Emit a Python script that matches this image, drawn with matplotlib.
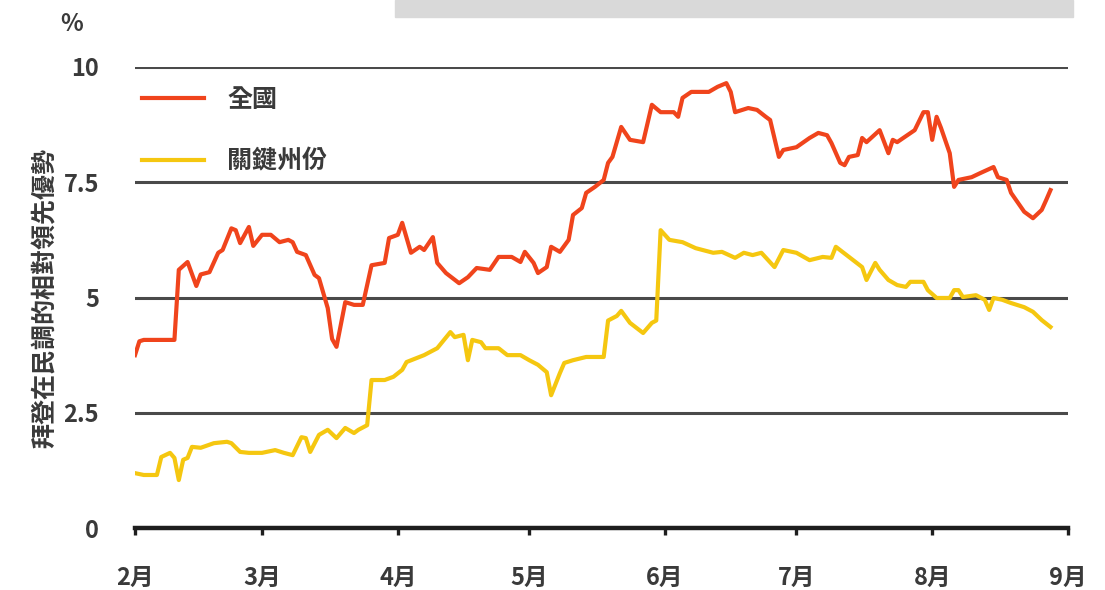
import numpy as np
import matplotlib
matplotlib.use("Agg")
import matplotlib.pyplot as plt
from matplotlib.patches import Rectangle

plt.rcParams['font.family'] = ['Noto Sans CJK TC', 'DejaVu Sans']

# day offsets from 2020-02-01 and Biden's lead (%)
nat_days = [0, 1, 2, 9, 10, 12, 14, 15, 17, 19, 20, 22, 23, 24, 26, 27, 29, 31, 33, 35,
            36, 37, 39, 41, 42, 44, 45, 46, 48, 50, 52, 54, 57, 58, 60, 61, 63, 65, 66, 68,
            69, 71, 74, 76, 78, 81, 83, 86, 88, 89, 91, 92, 94, 95, 97, 99, 100, 102, 103, 105,
            107, 108, 109, 111, 113, 116, 118, 120, 123, 124, 125, 127, 131, 133, 135, 136, 137, 140, 142, 144,
            145, 147, 148, 151, 154, 156, 158, 159, 161, 162, 163, 165, 166, 167, 170, 172, 173, 174, 176, 178,
            180, 181, 182, 183, 184, 186, 187, 188, 191, 193, 196, 197, 199, 200, 203, 205, 207, 208, 209]
nat_vals = [3.75, 4.05, 4.08, 4.08, 5.6, 5.77, 5.25, 5.5, 5.55, 5.97, 6.03, 6.5, 6.46, 6.18, 6.53, 6.12, 6.36, 6.36, 6.2, 6.25,
            6.2, 5.99, 5.92, 5.49, 5.42, 4.77, 4.1, 3.93, 4.9, 4.84, 4.84, 5.7, 5.75, 6.29, 6.36, 6.62, 5.97, 6.1, 6.03, 6.31,
            5.75, 5.53, 5.31, 5.44, 5.64, 5.6, 5.88, 5.88, 5.77, 5.99, 5.75, 5.53, 5.66, 6.1, 5.99, 6.25, 6.79, 6.94, 7.27, 7.4,
            7.55, 7.92, 8.05, 8.7, 8.42, 8.37, 9.18, 9.02, 9.02, 8.92, 9.33, 9.46, 9.46, 9.57, 9.65, 9.46, 9.02, 9.11, 9.07, 8.92,
            8.85, 8.05, 8.2, 8.26, 8.46, 8.57, 8.52, 8.35, 7.92, 7.87, 8.05, 8.09, 8.46, 8.37, 8.63, 8.13, 8.42, 8.37, 8.5, 8.63,
            9.02, 9.02, 8.42, 8.92, 8.68, 8.13, 7.4, 7.55, 7.61, 7.7, 7.83, 7.61, 7.55, 7.27, 6.86, 6.72, 6.9, 7.11, 7.33]

swing_days = [0, 2, 5, 6, 8, 9, 10, 11, 12, 13, 15, 18, 21, 22, 24, 26, 29, 32, 34, 36,
              38, 39, 40, 42, 44, 46, 48, 50, 51, 53, 54, 57, 59, 61, 62, 66, 69, 72, 73, 75,
              76, 77, 79, 80, 83, 85, 88, 90, 92, 94, 95, 97, 98, 100, 103, 107, 108, 110, 111, 113,
              116, 118, 119, 120, 122, 125, 128, 132, 134, 137, 139, 141, 143, 146, 148, 151, 154, 157, 159, 160,
              163, 166, 167, 169, 170, 172, 174, 176, 177, 180, 181, 183, 186, 187, 188, 189, 192, 194, 195, 196,
              198, 200, 203, 205, 207, 209]
swing_vals = [1.19, 1.15, 1.15, 1.54, 1.63, 1.52, 1.04, 1.48, 1.52, 1.76, 1.74, 1.84, 1.87, 1.84, 1.65, 1.63, 1.63, 1.69, 1.63, 1.58,
              1.97, 1.95, 1.65, 2.02, 2.13, 1.95, 2.17, 2.06, 2.13, 2.23, 3.21, 3.21, 3.28, 3.43, 3.6, 3.75, 3.9, 4.25, 4.14, 4.19,
              3.64, 4.08, 4.03, 3.9, 3.9, 3.75, 3.75, 3.64, 3.54, 3.38, 2.88, 3.36, 3.58, 3.64, 3.71, 3.71, 4.5, 4.6, 4.71, 4.45,
              4.23, 4.45, 4.5, 6.46, 6.25, 6.2, 6.07, 5.97, 5.99, 5.86, 5.97, 5.92, 5.97, 5.66, 6.03, 5.97, 5.81, 5.88, 5.86, 6.1,
              5.88, 5.66, 5.38, 5.75, 5.6, 5.38, 5.27, 5.23, 5.34, 5.34, 5.16, 4.99, 4.99, 5.16, 5.16, 5.01, 5.05, 4.95, 4.73, 4.99,
              4.95, 4.88, 4.79, 4.69, 4.51, 4.36]

month_labels = ['2月', '3月', '4月', '5月', '6月', '7月', '8月', '9月']
y_ticks = [0, 2.5, 5, 7.5, 10]
y_labels = ['0', '2.5', '5', '7.5', '10']

start = np.datetime64('2020-02-01')
nat_x = start + np.array(nat_days, dtype='timedelta64[D]')
swing_x = start + np.array(swing_days, dtype='timedelta64[D]')
month_x = np.arange(np.datetime64('2020-02'), np.datetime64('2020-10'), np.timedelta64(1, 'M')).astype('datetime64[D]')

txt = '#3a3a3a'

fig = plt.figure(figsize=(11.05, 5.9), dpi=100)
ax = fig.add_axes([135 / 1105, 1 - 528 / 590, 933 / 1105, 461 / 590])

ax.plot(nat_x, nat_vals, color='#f0441c', lw=3.0, label='全國', zorder=3, solid_joinstyle='round')
ax.plot(swing_x, swing_vals, color='#f5c710', lw=3.0, label='關鍵州份', zorder=3, solid_joinstyle='round')

ax.set_xlim(month_x[0], month_x[-1])
ax.set_ylim(0, 10)
ax.set_xticks(month_x)
ax.set_xticklabels(month_labels, fontweight='bold')
ax.set_yticks(y_ticks)
ax.set_yticklabels(y_labels, fontweight='bold')

for v in y_ticks[1:]:
    ax.axhline(v, color='#4a4a4a', lw=2.2, zorder=1)

for s in ['left', 'right', 'top']:
    ax.spines[s].set_visible(False)
ax.spines['bottom'].set_linewidth(3.2)
ax.spines['bottom'].set_color('#1e1e1e')
ax.tick_params(axis='x', length=5, width=2.4, color='#1e1e1e', direction='out',
               pad=22, labelsize=17, labelcolor=txt)
ax.tick_params(axis='y', length=0, pad=26, labelsize=17, labelcolor=txt)

ax.set_ylabel('拜登在民調的相對領先優勢', fontsize=18, color=txt, labelpad=4, fontweight='bold')
fig.text(72 / 1105, 1 - 24 / 590, '%', fontsize=17, color=txt, ha='center', va='center', fontweight='bold')

leg = ax.legend(loc='upper left', bbox_to_anchor=(0.0075, 0.955), frameon=False, fontsize=18,
                handlelength=2.5, handletextpad=0.9, labelspacing=1.5, borderpad=0, borderaxespad=0)
for t in leg.get_texts():
    t.set_fontweight('bold')
    t.set_color(txt)

fig.patches.append(Rectangle((395 / 1105, 1 - 17 / 590), 678 / 1105, 17 / 590,
                             transform=fig.transFigure, color='#d9d9d9', zorder=0))

fig.savefig('out.png', dpi=100)
